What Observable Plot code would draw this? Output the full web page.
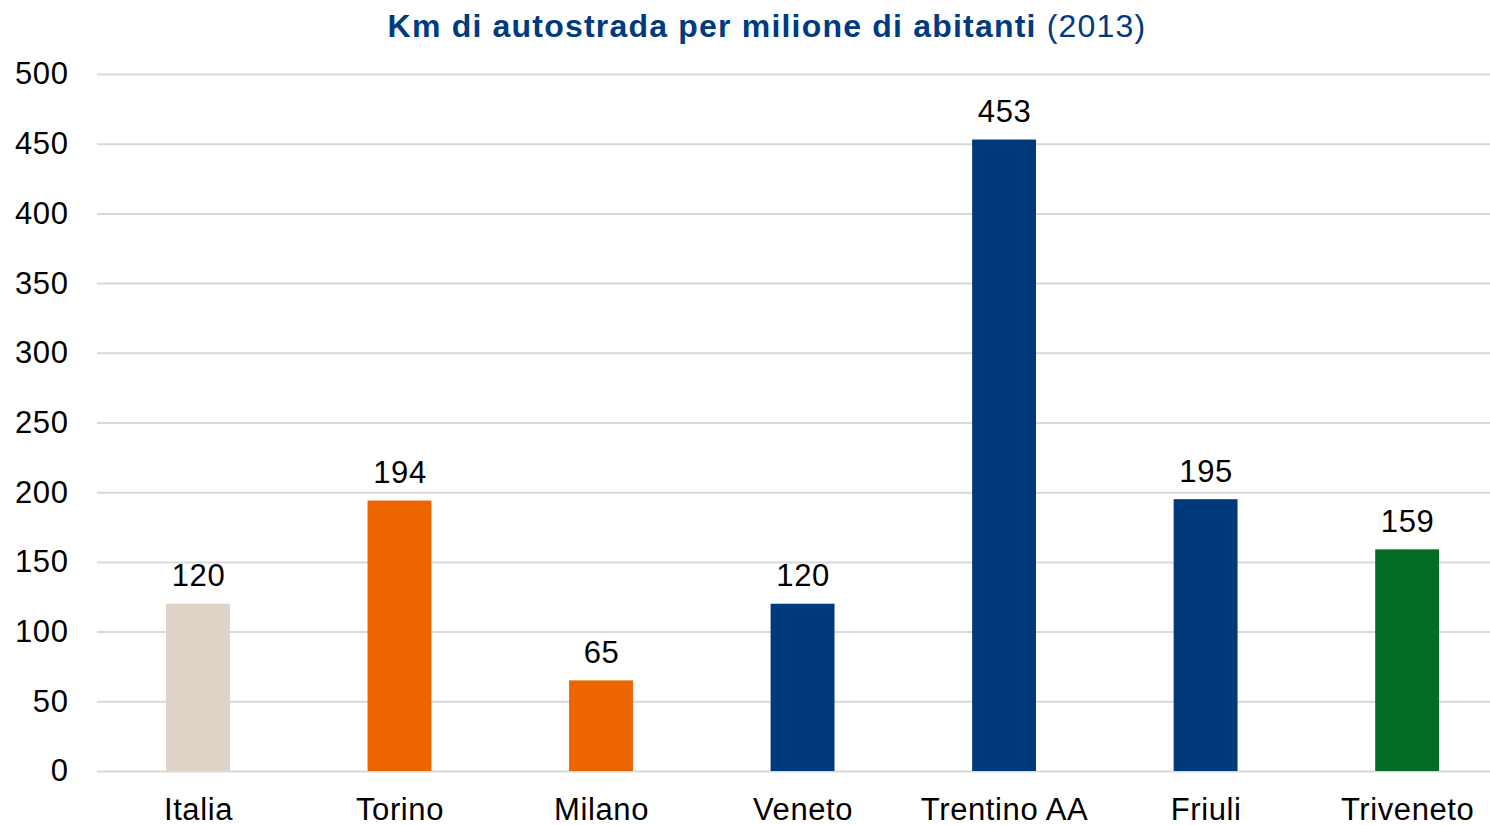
<!DOCTYPE html>
<html>
<head>
<meta charset="utf-8">
<script src="https://cdn.jsdelivr.net/npm/d3@7"></script>
<script src="https://cdn.jsdelivr.net/npm/@observablehq/plot@0.6"></script>
<style>
  html, body { margin: 0; padding: 0; background: #fff; }
  #title {
    width: 1490px; box-sizing: border-box; padding-left: 44px;
    height: 50px; line-height: 52px; text-align: center;
    font-family: "Liberation Sans", Arial, sans-serif; font-size: 32px; color: #003a80;
    letter-spacing: 1.2px; white-space: nowrap;
  }
  #title b { font-weight: bold; }
  #chart svg { display: block; }
</style>
</head>
<body>
<div id="title"><b>Km di autostrada per milione di abitanti</b> (2013)</div>
<div id="chart"></div>
<script>
const categories = ["Italia", "Torino", "Milano", "Veneto", "Trentino AA", "Friuli", "Triveneto"];
const values = [120, 194, 65, 120, 453, 195, 159];
const groups = ["Italia", "Città", "Città", "Regione", "Regione", "Regione", "Triveneto"];
const yTicks = [0, 50, 100, 150, 200, 250, 300, 350, 400, 450, 500];

const data = categories.map((c, i) => ({category: c, value: values[i], group: groups[i]}));

const chart = Plot.plot({
  width: 1490,
  height: 775,
  marginTop: 24,
  marginBottom: 54,
  marginLeft: 97,
  marginRight: 0,
  style: {fontFamily: "'Liberation Sans', Arial, sans-serif", fontSize: "31px", color: "#000", background: "#fff", letterSpacing: "0.6px"},
  x: {domain: categories, range: [97.2, 1507.9], paddingInner: 0.683, paddingOuter: 0.3415, round: false, label: null},
  y: {domain: [0, 500], label: null},
  color: {domain: ["Italia", "Città", "Regione", "Triveneto"], range: ["#ddd3c7", "#ec6500", "#003a7a", "#026d27"]},
  marks: [
    Plot.ruleY(yTicks, {stroke: "#d9d9d9", strokeOpacity: 1, strokeWidth: 2}),
    Plot.barY(data, {x: "category", y: "value", fill: "group"}),
    Plot.text(data, {x: "category", y: "value", text: d => String(d.value), lineAnchor: "bottom", dy: -18, fontSize: 31, fill: "#000"}),
    Plot.axisY(yTicks, {tickSize: 0, tickPadding: 29, fontSize: 31, label: null}),
    Plot.axisX({tickSize: 0, tickPadding: 26, fontSize: 31, label: null})
  ]
});
document.getElementById("chart").appendChild(chart);
</script>
</body>
</html>
